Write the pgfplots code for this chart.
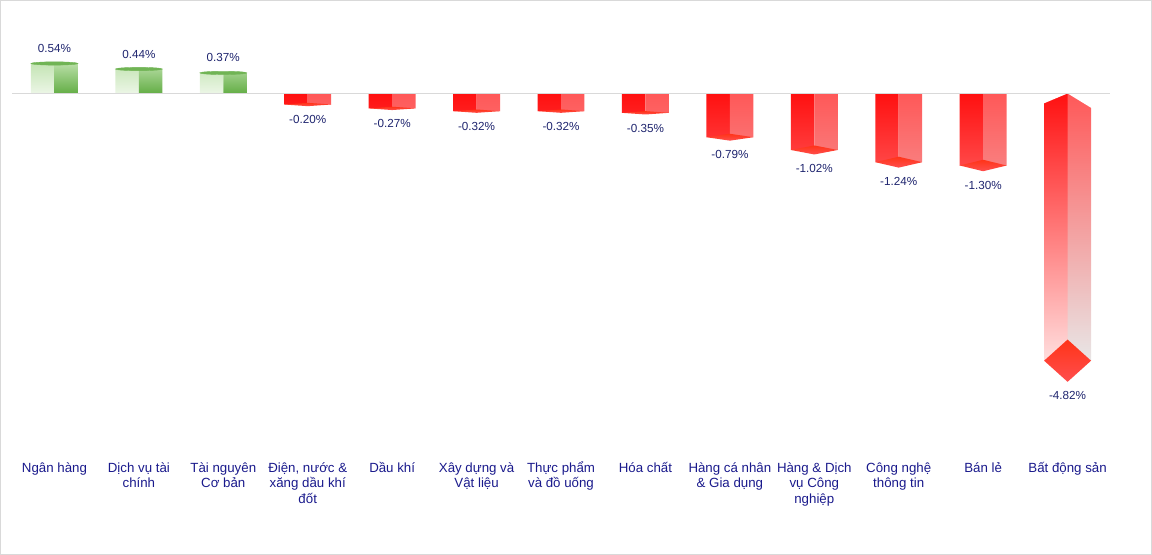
\documentclass[border=0pt]{standalone}
\usepackage{pgfplots}
\pgfplotsset{compat=1.18}
\usepackage{fontspec}
\setmainfont{Liberation Sans}
\definecolor{navyc}{RGB}{26,26,140}
\definecolor{lblc}{RGB}{30,36,110}
\definecolor{gl1}{RGB}{236,246,230}
\definecolor{gl2}{RGB}{196,228,180}
\definecolor{gr1}{RGB}{184,222,166}
\definecolor{gr2}{RGB}{100,174,70}
\definecolor{gtop}{RGB}{112,180,84}
\definecolor{rl1}{RGB}{255,16,16}
\definecolor{rl2}{RGB}{255,222,222}
\definecolor{rr1}{RGB}{255,88,88}
\definecolor{rr2}{RGB}{232,230,230}
\definecolor{dia1}{RGB}{255,52,24}
\definecolor{dia2}{RGB}{255,78,78}
\definecolor{zline}{RGB}{217,217,217}
\begin{document}
\begin{tikzpicture}
\begin{axis}[
  scale only axis, width=1152pt, height=554pt,
  xmin=-0.639, xmax=12.994, ymin=-8.306, ymax=1.6757,
  axis line style={draw=black!15, line width=1pt},
  xtick=\empty, ytick=\empty,
  clip=false,
]
% positive bars (green) : left face / right face
\addplot[ybar, bar width=0.278, bar shift=-0.139, draw=none, top color=gl2, bottom color=gl1]
  coordinates {(0,0.54) (1,0.44) (2,0.37)};
\addplot[ybar, bar width=0.278, bar shift=0.139, draw=none, top color=gr1, bottom color=gr2]
  coordinates {(0,0.54) (1,0.44) (2,0.37)};
\addplot[gtop, only marks, mark=*, mark size=23.5pt, mark options={yscale=0.07, draw=none, fill=gtop}]
  coordinates {(0,0.54) (1,0.44) (2,0.37)};
% negative bars (red)
\addplot[ybar, bar width=0.278, bar shift=-0.139, draw=none, top color=rl1, bottom color=rl2]
  coordinates {(3,-0.20) (4,-0.27) (5,-0.32) (6,-0.32) (7,-0.35) (8,-0.79) (9,-1.02) (10,-1.24) (11,-1.30) (12,-4.82)};
\addplot[ybar, bar width=0.278, bar shift=0.139, draw=none, top color=rr1, bottom color=rr2]
  coordinates {(3,-0.20) (4,-0.27) (5,-0.32) (6,-0.32) (7,-0.35) (8,-0.79) (9,-1.02) (10,-1.24) (11,-1.30) (12,-4.82)};
% bottom faces
\pgfplotsset{diam/.style={draw=none, top color=dia1, bottom color=dia2, mark=none}}
\addplot[diam] coordinates {(2.722,-0.20) (3,-0.17) (3.278,-0.20) (3,-0.23) (2.722,-0.20)};
\addplot[diam] coordinates {(3.722,-0.27) (4,-0.24) (4.278,-0.27) (4,-0.30) (3.722,-0.27)};
\addplot[diam] coordinates {(4.722,-0.32) (5,-0.29) (5.278,-0.32) (5,-0.35) (4.722,-0.32)};
\addplot[diam] coordinates {(5.722,-0.32) (6,-0.29) (6.278,-0.32) (6,-0.35) (5.722,-0.32)};
\addplot[diam] coordinates {(6.722,-0.35) (7,-0.32) (7.278,-0.35) (7,-0.38) (6.722,-0.35)};
\addplot[diam] coordinates {(7.722,-0.79) (8,-0.728) (8.278,-0.79) (8,-0.852) (7.722,-0.79)};
\addplot[diam] coordinates {(8.722,-1.02) (9,-0.939) (9.278,-1.02) (9,-1.101) (8.722,-1.02)};
\addplot[diam] coordinates {(9.722,-1.24) (10,-1.142) (10.278,-1.24) (10,-1.338) (9.722,-1.24)};
\addplot[diam] coordinates {(10.722,-1.30) (11,-1.197) (11.278,-1.30) (11,-1.403) (10.722,-1.30)};
\addplot[diam] coordinates {(11.722,-4.82) (12,-4.439) (12.278,-4.82) (12,-5.201) (11.722,-4.82)};
% top chevron of the tallest bar
\addplot[fill=white, draw=none, mark=none] coordinates {(11.71,0) (12,0) (11.71,-0.185) (11.71,0)};
\addplot[fill=white, draw=none, mark=none] coordinates {(12,0) (12.29,0) (12.29,-0.27) (12,0)};
% zero line
\addplot[zline, line width=1pt, mark=none] coordinates {(-0.5,0) (12.5,0)};
% data labels
\addplot[draw=none, mark=none, nodes near coords, point meta=explicit symbolic,
  every node near coord/.append style={anchor=center, inner sep=0pt, text=lblc, font=\fontsize{11.7}{14}\selectfont}]
  coordinates {(0,0.81) [0.54\%] (1,0.71) [0.44\%] (2,0.64) [0.37\%]
   (3,-0.468) [-0.20\%] (4,-0.543) [-0.27\%] (5,-0.597) [-0.32\%] (6,-0.597) [-0.32\%]
   (7,-0.630) [-0.35\%] (8,-1.104) [-0.79\%] (9,-1.353) [-1.02\%] (10,-1.590) [-1.24\%]
   (11,-1.655) [-1.30\%] (12,-5.453) [-4.82\%]};
% category labels
\tikzset{cat/.style={anchor=base, inner sep=0pt, text=navyc, font=\fontsize{13.3}{15.5}\selectfont}}
\node[cat] at (axis cs:0,-6.829) {\begin{tabular}[t]{@{}c@{}}Ngân hàng\end{tabular}};
\node[cat] at (axis cs:1,-6.829) {\begin{tabular}[t]{@{}c@{}}Dịch vụ tài\\chính\end{tabular}};
\node[cat] at (axis cs:2,-6.829) {\begin{tabular}[t]{@{}c@{}}Tài nguyên\\Cơ bản\end{tabular}};
\node[cat] at (axis cs:3,-6.829) {\begin{tabular}[t]{@{}c@{}}Điện, nước \&\\xăng dầu khí\\đốt\end{tabular}};
\node[cat] at (axis cs:4,-6.829) {\begin{tabular}[t]{@{}c@{}}Dầu khí\end{tabular}};
\node[cat] at (axis cs:5,-6.829) {\begin{tabular}[t]{@{}c@{}}Xây dựng và\\Vật liệu\end{tabular}};
\node[cat] at (axis cs:6,-6.829) {\begin{tabular}[t]{@{}c@{}}Thực phẩm\\và đồ uống\end{tabular}};
\node[cat] at (axis cs:7,-6.829) {\begin{tabular}[t]{@{}c@{}}Hóa chất\end{tabular}};
\node[cat] at (axis cs:8,-6.829) {\begin{tabular}[t]{@{}c@{}}Hàng cá nhân\\\& Gia dụng\end{tabular}};
\node[cat] at (axis cs:9,-6.829) {\begin{tabular}[t]{@{}c@{}}Hàng \& Dịch\\vụ Công\\nghiệp\end{tabular}};
\node[cat] at (axis cs:10,-6.829) {\begin{tabular}[t]{@{}c@{}}Công nghệ\\thông tin\end{tabular}};
\node[cat] at (axis cs:11,-6.829) {\begin{tabular}[t]{@{}c@{}}Bán lẻ\end{tabular}};
\node[cat] at (axis cs:12,-6.829) {\begin{tabular}[t]{@{}c@{}}Bất động sản\end{tabular}};
\end{axis}
\end{tikzpicture}
\end{document}
